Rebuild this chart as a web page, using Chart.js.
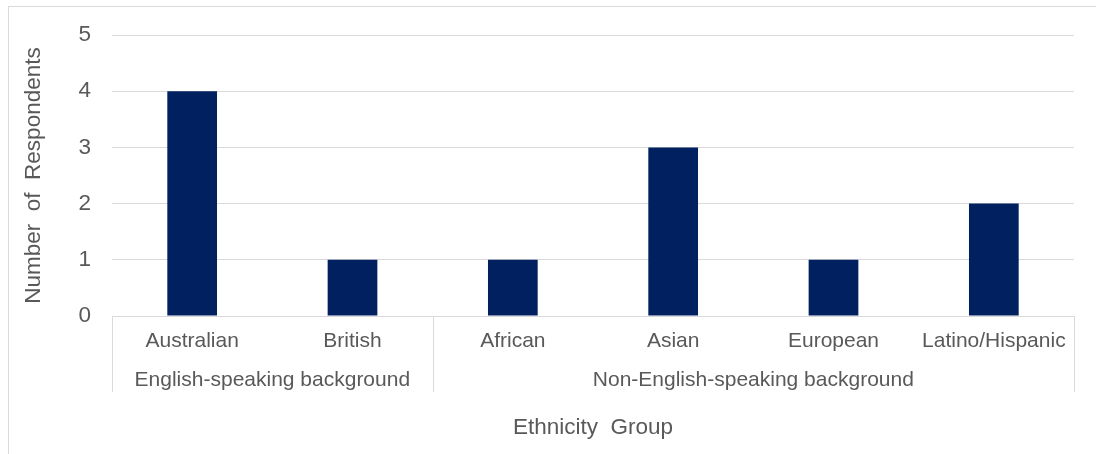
<!DOCTYPE html>
<html>
<head>
<meta charset="utf-8">
<script src="https://cdn.jsdelivr.net/npm/chart.js@4"></script>
<style>
html,body{margin:0;padding:0;background:#fff;overflow:hidden;}
#frame{position:absolute;left:8px;top:6px;width:1200px;height:600px;border:1px solid #d9d9d9;box-sizing:border-box;}
#wrap{position:absolute;left:0;top:0;width:1096px;height:454px;}
</style>
</head>
<body>
<div id="frame"></div>
<div id="wrap"><canvas id="c" width="1096" height="454"></canvas></div>
<script>
const categories = ['Australian', 'British', 'African', 'Asian', 'European', 'Latino/Hispanic'];
const respondents = [4, 1, 1, 3, 1, 2];
const groups = ['English-speaking background', 'Non-English-speaking background'];
const groupSpans = [2, 4];
const yTicks = [0, 1, 2, 3, 4, 5];

const FONT = 'Liberation Sans, Arial, sans-serif';
const TXT = '#595959';
const LINE = '#d9d9d9';

const groupPlugin = {
  id: 'groupLabels',
  afterDraw(chart) {
    const x = chart.scales.x;
    const ctx = chart.ctx;
    const n = categories.length;
    const w = (x.right - x.left) / n;
    const sepBottom = x.top + 76;
    ctx.save();
    ctx.strokeStyle = LINE;
    ctx.lineWidth = 1;
    let start = 0;
    const edges = [0];
    groupSpans.forEach(s => { start += s; edges.push(start); });
    edges.forEach(e => {
      const px = Math.round(x.getPixelForValue(Math.min(e, n - 1)) + (e >= n ? w / 2 : -w / 2)) + 0.5;
      ctx.beginPath();
      ctx.moveTo(px, x.top);
      ctx.lineTo(px, sepBottom);
      ctx.stroke();
    });
    ctx.fillStyle = TXT;
    ctx.font = '21px ' + FONT;
    ctx.textAlign = 'center';
    ctx.textBaseline = 'middle';
    groups.forEach((g, i) => {
      const a = x.getPixelForValue(edges[i]) - w / 2;
      const b = x.getPixelForValue(edges[i + 1] - 1) + w / 2;
      ctx.fillText(g, (a + b) / 2, x.top + 64);
    });
    ctx.restore();
  }
};

new Chart(document.getElementById('c'), {
  type: 'bar',
  data: {
    labels: categories,
    datasets: [{
      data: respondents,
      backgroundColor: '#002060',
      borderWidth: 0,
      categoryPercentage: 1,
      barPercentage: 0.31
    }]
  },
  options: {
    responsive: false,
    animation: false,
    devicePixelRatio: 1,
    layout: { padding: { left: 0, right: 22, top: 35, bottom: 0 } },
    plugins: { legend: { display: false }, tooltip: { enabled: false } },
    scales: {
      x: {
        offset: true,
        grid: { display: false, drawTicks: false },
        border: { display: true, color: LINE, width: 1 },
        ticks: { color: TXT, font: { family: FONT, size: 21 }, padding: 13, maxRotation: 0, autoSkip: false },
        title: { display: true, text: 'Ethnicity  Group', color: TXT, font: { family: FONT, size: 22.5 }, padding: { top: 0, bottom: 13 } },
        afterFit(s) { s.height = 454 - 316; }
      },
      y: {
        min: 0, max: 5,
        afterBuildTicks(s) { s.ticks = yTicks.map(v => ({ value: v })); },
        grid: { color: LINE, lineWidth: 1, drawTicks: false },
        border: { display: false },
        ticks: { color: TXT, font: { family: FONT, size: 22.5 }, padding: 21 },
        title: { display: true, text: 'Number  of  Respondents', color: TXT, font: { family: FONT, size: 22.5 }, padding: { top: 20, bottom: 0 } },
        afterFit(s) { s.width = 112; }
      }
    }
  },
  plugins: [groupPlugin]
});
</script>
</body>
</html>
